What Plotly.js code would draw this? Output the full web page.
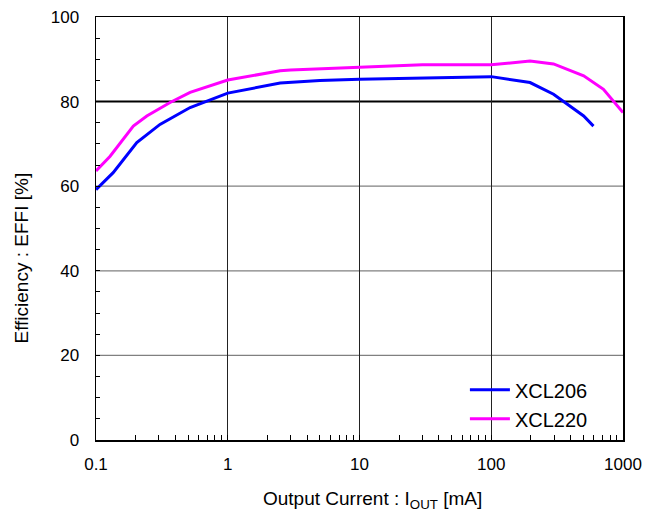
<!DOCTYPE html>
<html><head><meta charset="utf-8">
<script src="https://cdn.plot.ly/plotly-3.0.1.min.js"></script>
<style>body{margin:0;background:#fff}#chart{width:653px;height:513px}</style>
</head><body><div id="chart"></div>
<script>
const xcl206_x = [0.1, 0.135, 0.204, 0.306, 0.518, 1, 2.5, 5, 10, 30, 100, 197, 297, 503, 597];
const xcl206_y = [59.2, 63.2, 70.3, 74.6, 78.6, 82.0, 84.4, 85.0, 85.3, 85.6, 85.9, 84.5, 81.75, 76.6, 74.2];
const xcl220_x = [0.1, 0.128, 0.192, 0.243, 0.365, 0.518, 1, 2.5, 3, 10, 30, 100, 197, 297, 503, 711, 1000];
const xcl220_y = [63.6, 67.1, 74.2, 76.6, 79.8, 82.2, 85.1, 87.3, 87.5, 88.2, 88.7, 88.7, 89.6, 88.9, 86.1, 82.9, 77.4];
const names = ["XCL206", "XCL220"];
const xTicks = [0.1, 1, 10, 100, 1000];
const xTickText = ["0.1", "1", "10", "100", "1000"];
const yTicks = [0, 20, 40, 60, 80, 100];
const yGrayGrid = [20, 40, 60];
const yBlackGrid = [80];
const xTitle = "Output Current : I<sub>OUT</sub> [mA]";
const yTitle = "Efficiency : EFFI [%]";

const font = {family: "Liberation Sans, Arial, sans-serif", color: "#000"};
const data = [
  {x: xcl206_x, y: xcl206_y, name: names[0], mode: "lines", line: {color: "#0000ff", width: 3}},
  {x: xcl220_x, y: xcl220_y, name: names[1], mode: "lines", line: {color: "#ff00ff", width: 3}}
];
const shapes = [];
yGrayGrid.forEach(v => shapes.push({type: "line", xref: "paper", x0: 0, x1: 1, yref: "y", y0: v, y1: v, line: {color: "#808080", width: 1.3}, layer: "below"}));
yBlackGrid.forEach(v => shapes.push({type: "line", xref: "paper", x0: 0, x1: 1, yref: "y", y0: v, y1: v, line: {color: "#000", width: 2}, layer: "below"}));
// white backing behind legend (hides gridline there)
shapes.push({type: "rect", xref: "paper", x0: 0.715, x1: 0.985, yref: "y", y0: 1.6, y1: 15.8, fillcolor: "#fff", line: {width: 0}, layer: "between"});

const layout = {
  width: 653, height: 513,
  margin: {l: 96, r: 30, t: 17, b: 73},
  paper_bgcolor: "#fff", plot_bgcolor: "rgba(0,0,0,0)",
  font: Object.assign({size: 17}, font),
  showlegend: true,
  legend: {x: 0.7, y: 0.165, xanchor: "left", yanchor: "top", bgcolor: "rgba(0,0,0,0)",
    font: Object.assign({size: 20}, font), tracegroupgap: 0, itemwidth: 40},
  xaxis: {
    type: "log", range: [-1, 3], tickvals: xTicks, ticktext: xTickText,
    showgrid: true, gridcolor: "#222", gridwidth: 1.2,
    showline: true, linecolor: "#000", linewidth: 1.5, mirror: true,
    ticks: "inside", ticklen: 5, tickcolor: "#000",
    minor: {dtick: "D1", ticks: "inside", ticklen: 5, tickcolor: "#000", showgrid: false},
    tickfont: Object.assign({size: 17}, font),
    ticklabelstandoff: 8,
    zeroline: false
  },
  yaxis: {
    range: [0, 100], tickvals: yTicks,
    showgrid: false,
    showline: true, linecolor: "#000", linewidth: 1.5, mirror: true,
    ticks: "inside", ticklen: 4, tickcolor: "#000",
    minor: {dtick: 5, ticks: "inside", ticklen: 4, tickcolor: "#000", showgrid: false},
    tickfont: Object.assign({size: 17}, font),
    ticklabelstandoff: 12,
    zeroline: false
  },
  annotations: [
    {text: xTitle, xref: "paper", yref: "paper", x: 0.524, y: 0, yshift: -60, xanchor: "center", yanchor: "middle",
     showarrow: false, font: Object.assign({size: 19}, font)},
    {text: yTitle, xref: "paper", yref: "paper", x: 0, xshift: -74, y: 0.429, xanchor: "center", yanchor: "middle",
     textangle: -90, showarrow: false, font: Object.assign({size: 19}, font)}
  ],
  shapes: shapes
};
Plotly.newPlot("chart", data, layout, {displayModeBar: false, staticPlot: true});
</script></body></html>
